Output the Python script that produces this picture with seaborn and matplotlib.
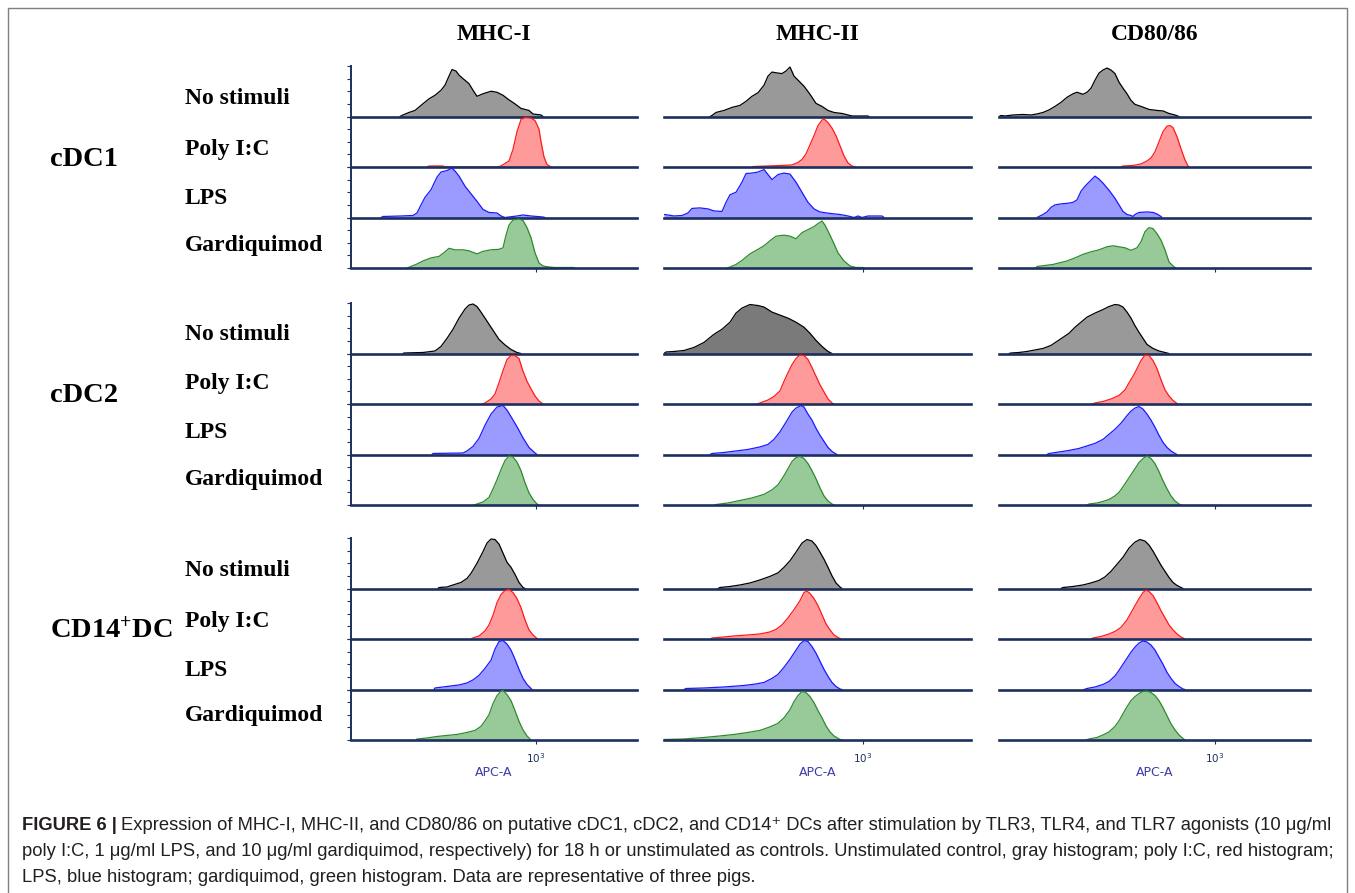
import matplotlib
matplotlib.use("Agg")
import matplotlib.pyplot as plt
import matplotlib.patches as mpatches
import seaborn as sns

# ---------------------------------------------------------------------------
# Labels
# ---------------------------------------------------------------------------
MARKERS = ["MHC-I", "MHC-II", "CD80/86"]
SUBSETS = ["cDC1", "cDC2", "CD14$^{+}$DC"]
STIMULI = ["No stimuli", "Poly I:C", "LPS", "Gardiquimod"]
AXIS_LABEL = "APC-A"
TICK_LABEL = r"$\mathsf{10^3}$"

CAPTION_HEAD = "FIGURE 6 |"
CAPTION = [
    "Expression of MHC-I, MHC-II, and CD80/86 on putative cDC1, cDC2, and CD14\u207a DCs after "
    "stimulation by TLR3, TLR4, and TLR7 agonists (10 \u03bcg/ml",
    "poly I:C, 1 \u03bcg/ml LPS, and 10 \u03bcg/ml gardiquimod, respectively) for 18 h or unstimulated "
    "as controls. Unstimulated control, gray histogram; poly I:C, red histogram;",
    "LPS, blue histogram; gardiquimod, green histogram. Data are representative of three pigs.",
]

# ---------------------------------------------------------------------------
# Histogram outlines: (channel, % of mode)
# ---------------------------------------------------------------------------
# MHC-I
MHCI_CDC1_NONE = [(49, 0), (52, 3), (58, 8), (64, 12), (70, 22), (78, 35), (84, 42), (90, 52), (94, 62), (98, 80),
                  (101, 93), (105, 90), (108, 82), (112, 75), (118, 65), (122, 52), (126, 40), (132, 45), (140, 50),
                  (146, 48), (152, 42), (158, 33), (164, 25), (170, 16), (178, 12), (182, 5), (190, 3), (192, 0)]
MHCI_CDC1_PIC = [(76, 0), (78, 2), (92, 2), (94, 0), (146, 0), (150, 2), (158, 12), (162, 35), (166, 70), (170, 94),
                 (174, 98), (180, 97), (184, 92), (188, 75), (190, 50), (193, 20), (196, 5), (200, 0)]
MHCI_CDC1_LPS = [(30, 0), (32, 2), (50, 3), (62, 4), (66, 9), (70, 25), (74, 40), (80, 55), (86, 80), (90, 90),
                 (96, 93), (101, 98), (104, 92), (108, 82), (114, 62), (120, 47), (126, 32), (132, 16), (138, 10),
                 (146, 9), (150, 3), (154, 0), (158, 1), (166, 3), (172, 5), (180, 3), (192, 1), (194, 0)]
MHCI_CDC1_GARD = [(56, 0), (60, 3), (66, 8), (72, 14), (80, 20), (88, 23), (94, 32), (98, 39), (104, 36), (112, 36),
                  (118, 34), (126, 28), (132, 33), (140, 36), (148, 37), (152, 40), (155, 65), (158, 85), (162, 95),
                  (168, 97), (172, 94), (176, 80), (180, 60), (184, 30), (188, 10), (192, 4), (198, 2), (204, 1),
                  (222, 1), (224, 0)]
MHCI_CDC2_NONE = [(52, 0), (53, 1), (72, 2), (84, 5), (90, 14), (96, 30), (102, 48), (108, 70), (114, 88), (118, 96),
                  (122, 98), (126, 93), (130, 82), (136, 64), (142, 46), (148, 28), (154, 17), (160, 8), (166, 2),
                  (170, 0)]
MHCI_CDC2_PIC = [(131, 0), (134, 2), (140, 10), (144, 20), (148, 42), (152, 66), (156, 88), (160, 96), (164, 96),
                 (168, 90), (172, 65), (176, 45), (180, 30), (184, 16), (188, 6), (192, 0)]
MHCI_CDC2_LPS = [(81, 0), (82, 2), (112, 3), (116, 7), (122, 16), (128, 32), (134, 58), (140, 80), (146, 94),
                 (152, 97), (156, 88), (160, 75), (166, 55), (172, 33), (178, 14), (184, 3), (186, 0)]
MHCI_CDC2_GARD = [(123, 0), (126, 2), (132, 6), (138, 15), (142, 32), (146, 50), (150, 70), (154, 88), (158, 97),
                  (162, 95), (166, 85), (170, 68), (174, 44), (178, 24), (182, 11), (186, 2), (188, 0)]
MHCI_CD14_NONE = [(87, 0), (88, 2), (96, 3), (102, 7), (110, 12), (116, 20), (120, 30), (126, 50), (132, 73),
                  (136, 90), (140, 98), (144, 97), (148, 88), (152, 70), (156, 52), (160, 42), (164, 28), (168, 12),
                  (172, 2), (174, 0)]
MHCI_CD14_PIC = [(120, 0), (122, 2), (128, 6), (134, 16), (138, 28), (142, 47), (146, 72), (150, 88), (154, 96),
                 (158, 98), (162, 92), (166, 80), (170, 62), (174, 38), (178, 18), (182, 8), (186, 1), (187, 0)]
MHCI_CD14_LPS = [(83, 0), (84, 3), (92, 5), (100, 7), (108, 9), (116, 13), (122, 19), (128, 28), (134, 42), (140, 58),
                 (144, 80), (148, 95), (152, 97), (156, 90), (160, 78), (164, 60), (168, 40), (172, 22), (176, 10),
                 (180, 2), (181, 0)]
MHCI_CD14_GARD = [(65, 0), (66, 2), (76, 4), (86, 7), (96, 9), (106, 11), (116, 15), (124, 19), (130, 27), (134, 38),
                  (138, 50), (142, 72), (146, 88), (150, 97), (152, 98), (156, 90), (160, 78), (164, 58), (168, 37),
                  (172, 20), (176, 8), (179, 2), (180, 0)]

# MHC-II
MHCII_CDC1_NONE = [(46, 0), (48, 2), (52, 8), (60, 12), (68, 18), (76, 22), (82, 30), (88, 40), (94, 47), (100, 62),
                   (104, 80), (108, 88), (114, 86), (118, 85), (122, 90), (126, 98), (130, 80), (136, 68), (140, 60),
                   (146, 44), (152, 26), (158, 20), (164, 12), (170, 8), (178, 6), (184, 3), (188, 1), (204, 1),
                   (205, 0)]
MHCII_CDC1_PIC = [(88, 0), (90, 1), (104, 2), (116, 3), (128, 4), (134, 9), (138, 15), (142, 26), (146, 44), (150, 62),
                  (154, 82), (158, 93), (160, 95), (164, 88), (168, 77), (172, 62), (176, 42), (180, 22), (184, 8),
                  (188, 2), (192, 0)]
MHCII_CDC1_LPS = [(0, 6), (4, 5), (10, 3), (18, 4), (24, 9), (28, 18), (36, 19), (44, 17), (50, 13), (58, 12),
                  (62, 30), (66, 45), (72, 50), (78, 70), (82, 87), (88, 88), (94, 90), (100, 95), (104, 85), (108, 75),
                  (114, 85), (120, 88), (126, 86), (132, 70), (138, 50), (144, 30), (150, 17), (156, 11), (166, 8),
                  (176, 6), (184, 3), (190, 0), (194, 3), (198, 0), (204, 3), (218, 3), (220, 0)]
MHCII_CDC1_GARD = [(63, 0), (66, 2), (72, 7), (78, 15), (86, 28), (94, 37), (100, 44), (106, 54), (112, 63), (120, 65),
                   (126, 63), (132, 58), (138, 70), (144, 76), (150, 82), (154, 88), (158, 93), (161, 85), (166, 65),
                   (170, 48), (174, 30), (180, 14), (186, 4), (192, 1), (199, 1), (200, 0)]
MHCII_CDC2_NONE = [(0, 0), (2, 3), (10, 4), (20, 6), (30, 12), (40, 22), (50, 38), (58, 48), (66, 62), (72, 80),
                   (78, 90), (86, 97), (94, 95), (100, 92), (108, 82), (116, 76), (124, 70), (132, 62), (140, 52),
                   (146, 40), (152, 26), (158, 14), (164, 4), (168, 0)]
MHCII_CDC2_PIC = [(93, 0), (96, 2), (104, 8), (110, 15), (116, 26), (120, 45), (124, 62), (128, 78), (132, 90),
                  (136, 97), (140, 96), (144, 88), (148, 72), (152, 55), (156, 38), (160, 24), (164, 10), (168, 2),
                  (170, 0)]
MHCII_CDC2_LPS = [(46, 0), (48, 2), (60, 4), (72, 7), (84, 10), (96, 15), (104, 20), (110, 30), (116, 45), (122, 64),
                  (128, 84), (132, 92), (137, 97), (140, 94), (144, 80), (148, 68), (152, 52), (156, 38), (160, 26),
                  (164, 14), (168, 6), (172, 1), (173, 0)]
MHCII_CDC2_GARD = [(51, 0), (52, 1), (64, 4), (76, 9), (88, 14), (100, 21), (108, 30), (114, 40), (120, 58), (124, 72),
                   (128, 86), (132, 94), (136, 96), (140, 92), (144, 82), (148, 68), (152, 52), (156, 34), (160, 18),
                   (164, 8), (168, 2), (170, 0)]
MHCII_CD14_NONE = [(54, 0), (56, 2), (66, 4), (76, 7), (86, 11), (96, 17), (106, 24), (114, 31), (120, 42), (126, 55),
                   (132, 72), (138, 90), (143, 97), (148, 94), (152, 85), (156, 72), (160, 58), (164, 42), (168, 25),
                   (172, 11), (176, 3), (178, 0)]
MHCII_CD14_PIC = [(47, 0), (48, 2), (60, 4), (70, 6), (84, 8), (96, 10), (106, 14), (112, 19), (118, 28), (124, 42),
                  (130, 58), (136, 76), (140, 92), (143, 95), (146, 90), (150, 80), (154, 66), (158, 48), (162, 30),
                  (166, 18), (170, 8), (174, 3), (177, 0)]
MHCII_CD14_LPS = [(20, 0), (22, 2), (40, 3), (60, 5), (80, 8), (92, 11), (100, 14), (108, 22), (114, 30), (120, 44),
                  (126, 60), (132, 78), (136, 90), (140, 97), (144, 95), (148, 85), (152, 72), (156, 56), (160, 40),
                  (164, 26), (168, 14), (172, 6), (176, 1), (178, 0)]
MHCII_CD14_GARD = [(0, 1), (20, 2), (40, 5), (56, 8), (70, 11), (84, 15), (96, 19), (106, 26), (114, 33), (120, 44),
                   (126, 60), (130, 76), (134, 88), (138, 96), (142, 94), (146, 86), (150, 74), (154, 58), (158, 44),
                   (162, 28), (166, 16), (170, 8), (176, 1), (178, 0)]

# CD80/86
CD80_CDC1_NONE = [(0, 0), (2, 2), (6, 1), (14, 3), (24, 4), (32, 3), (38, 5), (44, 8), (50, 13), (56, 20), (62, 28),
                  (68, 38), (74, 45), (78, 48), (84, 44), (88, 48), (92, 56), (96, 72), (100, 86), (104, 92), (108, 96),
                  (112, 92), (116, 85), (120, 68), (124, 56), (128, 45), (132, 32), (136, 24), (142, 20), (150, 14),
                  (158, 12), (164, 11), (170, 6), (176, 3), (180, 0)]
CD80_CDC1_PIC = [(122, 0), (124, 2), (134, 3), (142, 6), (148, 12), (152, 18), (156, 30), (160, 50), (164, 70),
                 (168, 81), (171, 82), (174, 78), (178, 60), (182, 36), (186, 14), (189, 2), (190, 0)]
CD80_CDC1_LPS = [(38, 0), (40, 2), (44, 6), (48, 11), (52, 20), (56, 25), (62, 27), (68, 28), (74, 30), (78, 35),
                 (82, 52), (86, 62), (90, 70), (94, 78), (96, 82), (100, 76), (104, 68), (110, 54), (116, 38),
                 (120, 25), (124, 12), (128, 6), (132, 4), (134, 2), (136, 6), (140, 10), (148, 11), (154, 10),
                 (158, 7), (162, 2), (163, 0)]
CD80_CDC1_GARD = [(37, 0), (38, 3), (46, 5), (54, 7), (60, 10), (68, 14), (76, 20), (84, 27), (92, 32), (100, 36),
                  (108, 42), (114, 44), (120, 42), (126, 40), (132, 35), (138, 40), (142, 52), (146, 72), (150, 80),
                  (154, 78), (158, 68), (162, 55), (166, 36), (170, 12), (174, 4), (177, 0)]
CD80_CDC2_NONE = [(10, 0), (12, 1), (20, 2), (28, 4), (36, 7), (44, 10), (52, 16), (58, 24), (64, 32), (70, 40),
                  (76, 52), (82, 62), (88, 72), (96, 80), (104, 87), (110, 93), (116, 97), (120, 96), (124, 92),
                  (128, 82), (132, 70), (136, 55), (140, 42), (144, 30), (148, 18), (154, 10), (160, 5), (166, 2),
                  (170, 0)]
CD80_CDC2_PIC = [(93, 0), (96, 2), (104, 5), (112, 10), (120, 17), (126, 28), (130, 42), (134, 55), (138, 70),
                 (142, 86), (146, 97), (150, 96), (154, 86), (158, 70), (162, 48), (166, 28), (170, 16), (174, 7),
                 (178, 1), (179, 0)]
CD80_CDC2_LPS = [(48, 0), (50, 2), (60, 5), (70, 8), (80, 12), (88, 17), (96, 22), (104, 30), (110, 40), (116, 50),
                 (122, 62), (128, 77), (132, 86), (136, 92), (140, 95), (144, 90), (148, 80), (152, 68), (156, 54),
                 (160, 38), (164, 24), (168, 14), (172, 7), (176, 2), (178, 0)]
CD80_CDC2_GARD = [(88, 0), (90, 2), (98, 4), (104, 7), (110, 11), (116, 18), (120, 25), (124, 36), (128, 48),
                  (132, 60), (136, 72), (140, 84), (144, 92), (148, 97), (152, 92), (156, 82), (160, 66), (164, 48),
                  (168, 32), (172, 18), (176, 8), (180, 2), (182, 0)]
CD80_CD14_NONE = [(62, 0), (64, 2), (74, 4), (84, 7), (92, 11), (100, 16), (106, 23), (112, 34), (118, 48), (124, 62),
                  (130, 80), (136, 92), (141, 97), (146, 94), (150, 86), (154, 74), (158, 60), (162, 46), (166, 34),
                  (170, 22), (174, 12), (178, 6), (182, 2), (184, 0)]
CD80_CD14_PIC = [(92, 0), (94, 2), (102, 5), (110, 10), (116, 15), (122, 23), (128, 38), (132, 52), (136, 66),
                 (140, 80), (144, 92), (147, 97), (150, 94), (154, 86), (158, 72), (162, 56), (166, 42), (170, 28),
                 (174, 18), (178, 10), (182, 4), (185, 1), (186, 0)]
CD80_CD14_LPS = [(85, 0), (88, 2), (96, 5), (104, 10), (110, 16), (116, 27), (120, 38), (124, 50), (128, 62),
                 (132, 74), (136, 84), (140, 92), (144, 96), (148, 94), (152, 88), (156, 78), (160, 64), (164, 50),
                 (168, 34), (172, 22), (176, 12), (180, 6), (184, 1), (186, 0)]
CD80_CD14_GARD = [(87, 0), (90, 2), (98, 5), (104, 10), (110, 16), (116, 27), (120, 38), (124, 52), (128, 66),
                  (132, 78), (136, 86), (140, 92), (144, 96), (148, 97), (152, 94), (156, 88), (160, 78), (164, 64),
                  (168, 48), (172, 32), (176, 20), (180, 10), (184, 3), (186, 0)]

# column -> subset -> stimulus
HISTS = [
    [[MHCI_CDC1_NONE, MHCI_CDC1_PIC, MHCI_CDC1_LPS, MHCI_CDC1_GARD],
     [MHCI_CDC2_NONE, MHCI_CDC2_PIC, MHCI_CDC2_LPS, MHCI_CDC2_GARD],
     [MHCI_CD14_NONE, MHCI_CD14_PIC, MHCI_CD14_LPS, MHCI_CD14_GARD]],
    [[MHCII_CDC1_NONE, MHCII_CDC1_PIC, MHCII_CDC1_LPS, MHCII_CDC1_GARD],
     [MHCII_CDC2_NONE, MHCII_CDC2_PIC, MHCII_CDC2_LPS, MHCII_CDC2_GARD],
     [MHCII_CD14_NONE, MHCII_CD14_PIC, MHCII_CD14_LPS, MHCII_CD14_GARD]],
    [[CD80_CDC1_NONE, CD80_CDC1_PIC, CD80_CDC1_LPS, CD80_CDC1_GARD],
     [CD80_CDC2_NONE, CD80_CDC2_PIC, CD80_CDC2_LPS, CD80_CDC2_GARD],
     [CD80_CD14_NONE, CD80_CD14_PIC, CD80_CD14_LPS, CD80_CD14_GARD]],
]

# ---------------------------------------------------------------------------
# Style / layout (pixels of the 1355x893 canvas)
# ---------------------------------------------------------------------------
W, H = 1355, 893
NAVY = "#1c2f5e"
FILLS = ["#999999", "#ff9a9a", "#9a9aff", "#98c998"]
EDGES = ["#000000", "#ff1a1a", "#1a1aff", "#2e8a2e"]
DARK_GRAY = "#7a7a7a"          # MHC-II / cDC2 control is drawn darker

COL_LEFT = [351, 664, 999]
COL_RIGHT = [637, 971, 1310]
TICK_POS = [185, 199, 216]      # position of 10^3 on each axis
GROUP_TOP = [66, 303, 538]
PANEL_H = 50.5

ROW_LABEL_Y = [[98, 149, 198, 245], [334, 384, 433, 480], [570, 622, 670, 716]]
GROUP_LABEL_Y = [160, 395, 630]
SERIF = ["Liberation Serif", "DejaVu Serif"]
SANS = ["Liberation Sans", "DejaVu Sans"]


def fx(px):
    return px / W


def fy(py):
    return 1 - py / H


def draw_hist(ax, pts, fill, edge):
    xs = [p[0] for p in pts]
    ys = [p[1] for p in pts]
    ax.fill_between(xs, ys, color=fill, lw=0, zorder=1)
    sns.lineplot(x=xs, y=ys, ax=ax, color=edge, lw=0.9, sort=False, estimator=None, zorder=2)


def main():
    sns.set_theme(style="white")
    plt.rcParams["mathtext.fontset"] = "custom"
    plt.rcParams["mathtext.rm"] = "Liberation Serif:bold"
    plt.rcParams["mathtext.it"] = "Liberation Serif:bold"
    plt.rcParams["mathtext.bf"] = "Liberation Serif:bold"
    plt.rcParams["mathtext.sf"] = "DejaVu Sans"

    fig = plt.figure(figsize=(W / 100, H / 100), dpi=100)
    fig.patch.set_facecolor("white")

    # outer frame
    fig.add_artist(mpatches.Rectangle((fx(8), fy(905)), fx(1339), 897 / H, transform=fig.transFigure,
                                      fill=False, edgecolor="#7f7f7f", lw=1.0))

    for c in range(3):
        width = COL_RIGHT[c] - COL_LEFT[c]
        for g in range(3):
            for r in range(4):
                top = GROUP_TOP[g] + r * PANEL_H
                ax = fig.add_axes([fx(COL_LEFT[c]), fy(top + PANEL_H), width / W, PANEL_H / H])
                ax.set_facecolor("none")
                fill = DARK_GRAY if (c == 1 and g == 1 and r == 0) else FILLS[r]
                draw_hist(ax, HISTS[c][g][r], fill, EDGES[r])
                ax.set_xlim(0, width)
                ax.set_ylim(0, 100)
                ax.set_xlabel("")
                ax.set_ylabel("")
                for side in ["top", "right"]:
                    ax.spines[side].set_visible(False)
                ax.spines["bottom"].set_color(NAVY)
                ax.spines["bottom"].set_linewidth(1.9)
                if c == 0:
                    ax.spines["left"].set_color(NAVY)
                    ax.spines["left"].set_linewidth(1.4)
                    ax.set_yticks([0, 25, 50, 75, 100])
                    ax.tick_params(axis="y", left=True, length=3, width=0.8, color=NAVY,
                                   direction="out", labelleft=False)
                else:
                    ax.spines["left"].set_visible(False)
                    ax.set_yticks([])
                if r == 3:
                    ax.set_xticks([TICK_POS[c]])
                    ax.tick_params(axis="x", bottom=True, length=3, width=0.8, color=NAVY,
                                   direction="out", pad=5)
                    if g == 2:
                        ax.set_xticklabels([TICK_LABEL], fontsize=7.5, color=NAVY)
                        ax.set_xlabel(AXIS_LABEL, fontsize=9, color="#3c3caa", labelpad=1,
                                      family=["DejaVu Sans"])
                    else:
                        ax.tick_params(axis="x", labelbottom=False)
                else:
                    ax.set_xticks([])

    # column headers
    for c, name in enumerate(MARKERS):
        fig.text(fx((COL_LEFT[c] + COL_RIGHT[c]) / 2), fy(35), name, ha="center", va="center",
                 fontsize=17, fontweight="bold", family=SERIF, color="black")

    # subset + stimulus labels
    for g, subset in enumerate(SUBSETS):
        fig.text(fx(50), fy(GROUP_LABEL_Y[g]), subset, ha="left", va="center",
                 fontsize=20.5, fontweight="bold", family=SERIF, color="black")
        for r, stim in enumerate(STIMULI):
            fig.text(fx(185), fy(ROW_LABEL_Y[g][r]), stim, ha="left", va="center",
                     fontsize=17, fontweight="bold", family=SERIF, color="black")

    # caption, scaled so the first line spans the frame
    renderer = fig.canvas.get_renderer()
    size = 12.0
    line_y = [826, 852, 877]
    texts = []
    for _ in range(2):
        for t in texts:
            t.remove()
        texts = []
        head = fig.text(fx(22), fy(line_y[0]), CAPTION_HEAD, ha="left", va="center", fontsize=size,
                        fontweight="bold", family=SANS, color="#231f20")
        hb = head.get_window_extent(renderer)
        first = fig.text((hb.x1 + 0.3 * size) / W, fy(line_y[0]), CAPTION[0], ha="left", va="center",
                         fontsize=size, family=SANS, color="#231f20")
        fb = first.get_window_extent(renderer)
        texts = [head, first]
        for k in (1, 2):
            texts.append(fig.text(fx(22), fy(line_y[k]), CAPTION[k], ha="left", va="center",
                                  fontsize=size, family=SANS, color="#231f20"))
        size = size * (1335 - 22) / (fb.x1 - hb.x0)

    fig.savefig("out.png", dpi=100, facecolor="white")
    plt.close(fig)


if __name__ == "__main__":
    main()
